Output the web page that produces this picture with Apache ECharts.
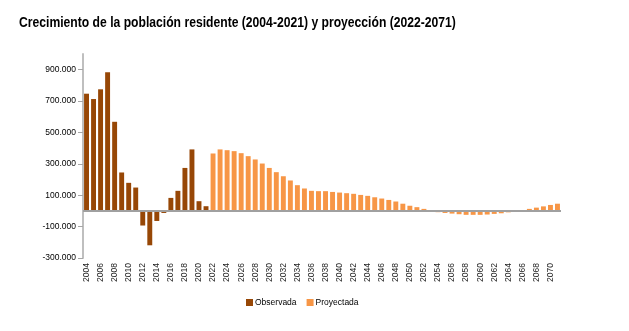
<!DOCTYPE html>
<html>
<head>
<meta charset="utf-8">
<script src="https://cdn.jsdelivr.net/npm/echarts@6/dist/echarts.min.js"></script>
<style>
  html, body { margin: 0; padding: 0; background: #fff; }
  #chart { width: 629px; height: 331px; }
</style>
</head>
<body>
<div id="chart"></div>
<script>
// Años 2004-2071
const years = [];
for (let y = 2004; y <= 2071; y++) years.push(String(y));

// Crecimiento observado (2004-2021)
const observada = [
  747000, 713000, 775000, 883000, 568000, 245000, 179000, 149000,
  -93000, -219000, -64000, -13000, 83000, 128000, 274000, 392000,
  62000, 30000
];

// Crecimiento proyectado (2022-2071)
const proyectada = [
  366000, 392000, 387000, 381000, 368000, 349000, 328000, 302000, 274000, 247000,
  221000, 194000, 164000, 143000, 128000, 126000, 126000, 121000, 117000, 113000,
  109000, 102000, 96000, 87000, 79000, 70000, 60000, 46000, 33000, 24000,
  13000, 5000, -8000, -13000, -17000, -21000, -25000, -25000, -25000, -23000,
  -19000, -15000, -9000, -4000, 3000, 13000, 21000, 29000, 38000, 46000
];

// Marcas del eje vertical
const yTicks = [-300000, -100000, 100000, 300000, 500000, 700000, 900000];

const titulo = 'Crecimiento de la población residente (2004-2021) y proyección (2022-2071)';

const nObs = observada.length;
const serieObs = years.map((_, i) => (i < nObs ? observada[i] : null));
const serieProy = years.map((_, i) => (i >= nObs ? proyectada[i - nObs] : null));

function miles(v) {
  const s = String(Math.abs(v)).replace(/\B(?=(\d{3})+(?!\d))/g, '.');
  return (v < 0 ? '-' : '') + s;
}

const font = 'Liberation Sans, Arial, sans-serif';
const chart = echarts.init(document.getElementById('chart'), null, { renderer: 'canvas' });

chart.setOption({
  animation: false,
  backgroundColor: '#fff',
  // Título en negrita, algo estrechado horizontalmente
  graphic: [{
    type: 'text',
    x: 19,
    y: 15,
    scaleX: 0.81,
    scaleY: 1,
    originX: 0,
    originY: 0,
    style: {
      text: titulo,
      fill: '#000',
      font: 'bold 15px "Liberation Sans", Arial, sans-serif',
      verticalAlign: 'top'
    }
  }],
  legend: {
    data: ['Observada', 'Proyectada'],
    bottom: 19,
    left: 241,
    icon: 'rect',
    itemWidth: 7,
    itemHeight: 7,
    itemGap: 10,
    textStyle: { fontFamily: font, fontSize: 8.5, color: '#000', padding: [0, 0, 0, -3] }
  },
  grid: { left: 83, right: 68, top: 54, bottom: 73, containLabel: false },
  xAxis: {
    type: 'category',
    data: years,
    axisLine: { show: false, onZero: false },
    axisTick: { show: false },
    axisLabel: {
      rotate: 90,
      interval: 1,
      margin: 5,
      fontFamily: font,
      fontSize: 8.5,
      color: '#222'
    },
    splitLine: { show: false }
  },
  yAxis: {
    type: 'value',
    min: -300000,
    max: 1000000,
    splitLine: { show: false },
    axisLine: { show: true, lineStyle: { color: '#bfbfbf', width: 2 } },
    axisTick: { show: true, customValues: yTicks, length: 5, lineStyle: { color: '#a6a6a6' } },
    axisLabel: {
      customValues: yTicks,
      formatter: miles,
      margin: 7,
      fontFamily: font,
      fontSize: 8.5,
      color: '#000'
    }
  },
  series: [
    {
      name: 'Observada',
      type: 'bar',
      data: serieObs,
      barWidth: '70%',
      barGap: '-100%',
      itemStyle: { color: '#974706' },
      markLine: {
        silent: true,
        symbol: 'none',
        label: { show: false },
        lineStyle: { color: '#a0a0a0', width: 2, type: 'solid' },
        data: [{ yAxis: 0 }]
      }
    },
    {
      name: 'Proyectada',
      type: 'bar',
      data: serieProy,
      barWidth: '70%',
      barGap: '-100%',
      itemStyle: { color: '#F79646' }
    }
  ]
});
</script>
</body>
</html>
